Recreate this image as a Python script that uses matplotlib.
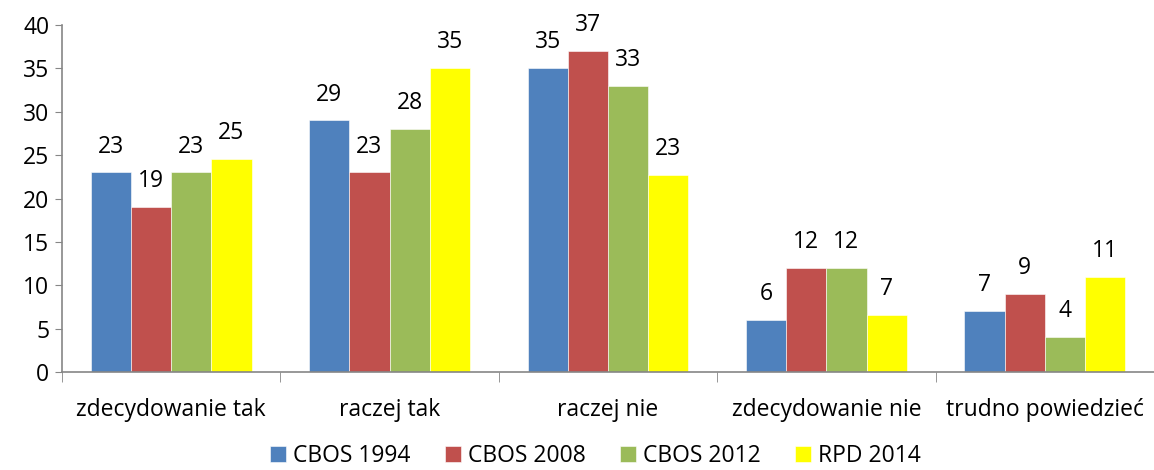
import numpy as np
import matplotlib.pyplot as plt

plt.rcParams['font.family'] = ['Open Sans', 'DejaVu Sans']

categories = ['zdecydowanie tak', 'raczej tak', 'raczej nie', 'zdecydowanie nie', 'trudno powiedzieć']
series = ['CBOS 1994', 'CBOS 2008', 'CBOS 2012', 'RPD 2014']
cbos1994 = [23, 29, 35, 6, 7]
cbos2008 = [19, 23, 37, 12, 9]
cbos2012 = [23, 28, 33, 12, 4]
rpd2014 = [24.6, 35, 22.7, 6.6, 11]
colors = ['#4F81BD', '#C0504D', '#9BBB59', '#FFFF00']

values = [cbos1994, cbos2008, cbos2012, rpd2014]

fig = plt.figure(figsize=(11.54, 4.70), dpi=100)
ax = fig.add_axes([0.0537, 0.2085, 0.9463, 0.7383])

fs = 16.5
x = np.arange(len(categories))
w = 0.184
for i, (name, vals, c) in enumerate(zip(series, values, colors)):
    pos = x + (i - 1.5) * w
    ax.bar(pos, vals, w, color=c, label=name, edgecolor='white', linewidth=0.4)
    for xp, v in zip(pos, vals):
        ax.text(xp, v + 1.6, '%d' % round(v), ha='center', va='bottom', fontsize=fs)

ax.set_xlim(-0.5, len(categories) - 0.5)
ax.set_ylim(0, 40)
ax.set_yticks(range(0, 41, 5))
ax.tick_params(axis='y', labelsize=fs, length=5, color='#868686', pad=4)
ax.set_xticks(x)
ax.set_xticklabels(categories, fontsize=fs)
ax.tick_params(axis='x', length=0, pad=19)
ax.set_xticks(np.arange(-0.5, len(categories)), minor=True)
ax.tick_params(axis='x', which='minor', length=7, color='#868686', direction='out')

for s in ['top', 'right']:
    ax.spines[s].set_visible(False)
for s in ['left', 'bottom']:
    ax.spines[s].set_color('#868686')
    ax.spines[s].set_linewidth(1.2)

fig.legend(loc='lower center', bbox_to_anchor=(0.516, -0.04), ncol=4, frameon=False,
           fontsize=fs, handlelength=0.7, handleheight=0.7, handletextpad=0.3,
           columnspacing=1.5)

fig.savefig('out.png', dpi=100)
